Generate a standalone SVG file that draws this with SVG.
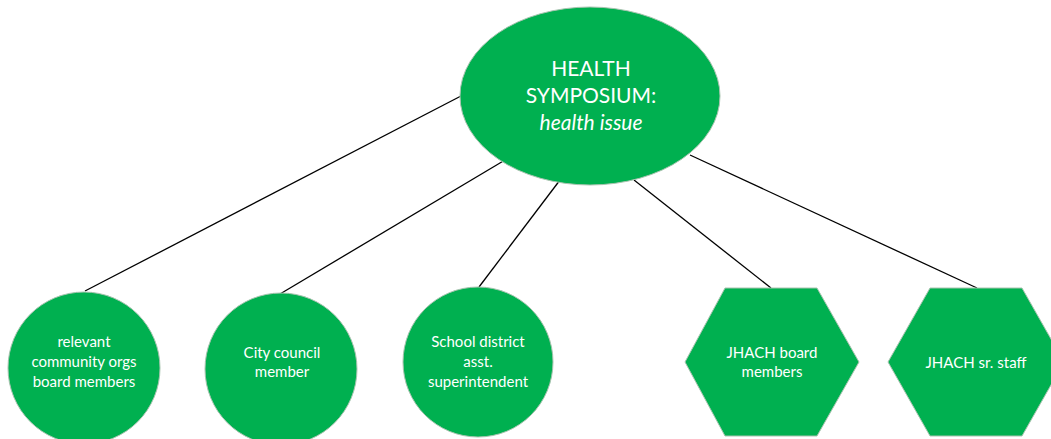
<svg xmlns="http://www.w3.org/2000/svg" width="1051" height="439" viewBox="0 0 1051 439">
<style>
.n{fill:#00B050;stroke:#a9c4b0;stroke-width:1}
.t{fill:#ffffff;font-family:Lato,"Open Sans","Liberation Sans",sans-serif;font-size:15px;text-anchor:middle}
.h{fill:#ffffff;font-family:Lato,"Open Sans","Liberation Sans",sans-serif;font-size:21px;text-anchor:middle}
.c line{stroke:#000;stroke-width:1.3}
</style>
<rect width="1051" height="439" fill="#ffffff"/>
<g class="c" id="connectors">
<line x1="461" y1="96" x2="85" y2="291"/>
<line x1="505" y1="160" x2="280" y2="294"/>
<line x1="560" y1="180" x2="479" y2="287"/>
<line x1="634" y1="180" x2="771" y2="288"/>
<line x1="690" y1="155" x2="977" y2="288"/>
</g>
<g id="symposium">
<ellipse class="n" cx="590" cy="96" rx="130" ry="89"/>
<text class="h" x="591" y="76">HEALTH</text>
<text class="h" x="591" y="103">SYMPOSIUM:</text>
<text class="h" x="591" y="130" font-style="italic">health issue</text>
</g>
<g id="community">
<circle class="n" cx="84" cy="368" r="76"/>
<text class="t" x="84" y="347">relevant</text>
<text class="t" x="84" y="367">community orgs</text>
<text class="t" x="84" y="387">board members</text>
</g>
<g id="council">
<circle class="n" cx="281" cy="369" r="76"/>
<text class="t" x="282" y="358">City council</text>
<text class="t" x="282" y="377">member</text>
</g>
<g id="school">
<circle class="n" cx="478" cy="362" r="75"/>
<text class="t" x="478" y="347">School district</text>
<text class="t" x="478" y="367">asst.</text>
<text class="t" x="478" y="387">superintendent</text>
</g>
<g id="jhach-board">
<polygon class="n" points="725,288 817,288 859,362 817,436 725,436 685,362"/>
<text class="t" x="772" y="358">JHACH board</text>
<text class="t" x="772" y="377">members</text>
</g>
<g id="jhach-staff">
<polygon class="n" points="930,288 1022,288 1064,362 1022,436 930,436 888,362"/>
<text class="t" x="976" y="368">JHACH sr. staff</text>
</g>
</svg>
